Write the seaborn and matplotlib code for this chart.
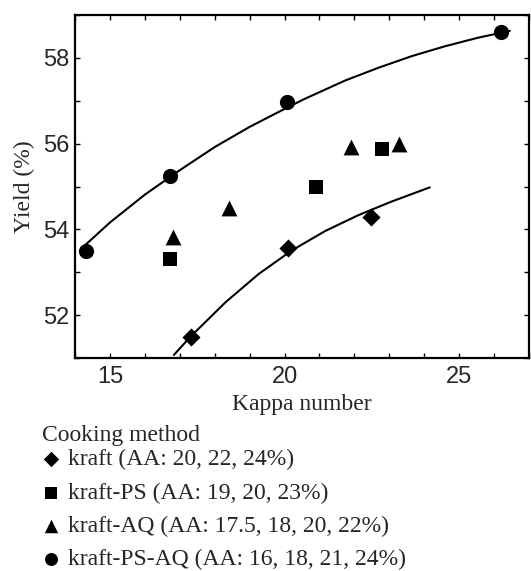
import matplotlib
matplotlib.use("Agg")
import matplotlib.pyplot as plt
import seaborn as sns

# ---- data ----
kraft_x = [17.31, 20.11, 22.49]
kraft_y = [51.50, 53.57, 54.29]
ps_x = [16.71, 20.89, 22.78]
ps_y = [53.30, 55.00, 55.88]
aq_x = [16.80, 18.40, 21.90, 23.29]
aq_y = [53.82, 54.50, 55.91, 56.00]
psaq_x = [14.31, 16.73, 20.08, 26.21]
psaq_y = [53.50, 55.24, 56.98, 58.61]

# fitted curves
upper_x = [14.30, 15.00, 16.00, 17.00, 18.00, 19.00, 19.69, 20.54, 21.73,
           22.69, 23.64, 24.59, 25.54, 26.45]
upper_y = [53.64, 54.16, 54.81, 55.38, 55.92, 56.39, 56.68, 57.03, 57.47,
           57.77, 58.04, 58.27, 58.47, 58.63]
lower_x = [16.83, 17.31, 18.31, 19.26, 20.21, 21.16, 22.11, 23.07, 24.16]
lower_y = [51.07, 51.50, 52.30, 52.96, 53.51, 53.96, 54.33, 54.65, 54.98]

legend_title = "Cooking method"
labels = ["kraft (AA: 20, 22, 24%)",
          "kraft-PS (AA: 19, 20, 23%)",
          "kraft-AQ (AA: 17.5, 18, 20, 22%)",
          "kraft-PS-AQ (AA: 16, 18, 21, 24%)"]
x_ticks = [15, 20, 25]
y_ticks = [52, 54, 56, 58]

sns.set_style("ticks")
plt.rcParams["font.family"] = ["Liberation Sans", "DejaVu Sans"]
serif = ["Liberation Serif", "DejaVu Serif"]

fig = plt.figure(figsize=(5.31, 5.71), dpi=100)
ax = fig.add_axes([75/531, 1-358/571, 454/531, 343/571])

series = [(kraft_x, kraft_y, "D", 85), (ps_x, ps_y, "s", 90),
          (aq_x, aq_y, "^", 130), (psaq_x, psaq_y, "o", 120)]
for (xs, ys, m, s), lab in zip(series, labels):
    sns.scatterplot(x=xs, y=ys, marker=m, s=s, color="black",
                    edgecolor="black", linewidth=0, label=lab, ax=ax,
                    zorder=3)

sns.lineplot(x=upper_x, y=upper_y, sort=False, estimator=None,
             color="black", lw=1.5, ax=ax, zorder=2)
sns.lineplot(x=lower_x, y=lower_y, sort=False, estimator=None,
             color="black", lw=1.5, ax=ax, zorder=2)

ax.set_xlim(14, 27)
ax.set_ylim(51, 59)
ax.set_xticks(x_ticks)
ax.set_yticks(y_ticks)
ax.set_xticks(range(14, 28), minor=True)
ax.set_yticks(range(51, 60), minor=True)
ax.tick_params(which="both", direction="in", top=True, right=True,
               length=3.5, width=1.0, color="black")
ax.tick_params(axis="x", which="major", labelsize=17, pad=6)
ax.tick_params(axis="y", which="major", labelsize=17, pad=4)
for sp in ax.spines.values():
    sp.set_linewidth(1.6)
    sp.set_color("black")

ax.set_xlabel("Kappa number", family=serif, fontsize=17)
ax.set_ylabel("Yield (%)", family=serif, fontsize=17)
ax.xaxis.set_label_coords(0.5, -0.105)
ax.yaxis.set_label_coords(-0.088, 0.5)

handles, labs = ax.get_legend_handles_labels()
ax.legend_.remove()
fig.text(42/531, 1-436/571, legend_title, family=serif, fontsize=17,
         ha="left", va="center")
leg = fig.legend(handles, labs, loc="upper left",
                 bbox_to_anchor=(42/531, 1-449/571), frameon=False,
                 prop={"family": serif, "size": 17},
                 handlelength=0.8, handletextpad=0.3, labelspacing=0.5,
                 borderpad=0, borderaxespad=0, markerscale=0.85)

fig.savefig("out.png", dpi=100)
